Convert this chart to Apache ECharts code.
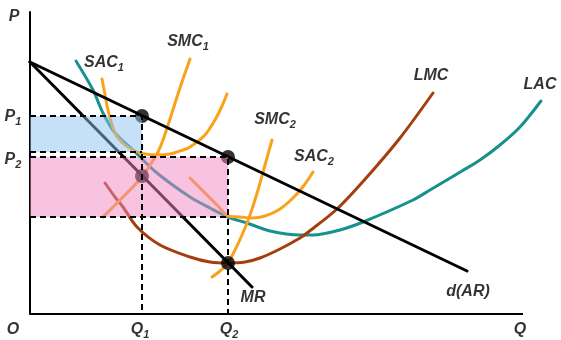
<!DOCTYPE html>
<html><head><meta charset="utf-8">
<script src="https://cdn.jsdelivr.net/npm/echarts@6/dist/echarts.min.js"></script>
<style>html,body{margin:0;padding:0;background:#fff}#c{width:561px;height:340px}</style>
</head><body><div id="c"></div>
<script>
// ---- data (quantity, price) in arbitrary units ----
const demandAR = [[0,252],[437,43]];
const marginalRevenue = [[0,252],[222,27]];
const lac = [[46,253],[63,224],[73,201],[85,181],[103,164],[127,141],[160,117],[180,106],[198,97],[217,91],[240,83],[270,79],[283,79],[310,84],[333,92],[383,114],[400,124],[432,143],[450,154],[470,169],[490,187],[511,213]];
const sac1 = [[72,235],[75,219],[78,204],[85,181],[95,169],[105,163],[115,160],[127,159],[140,160],[153,164],[160,167],[175,179],[185,194],[192,208],[197,220]];
const smc1 = [[73,97],[85,109],[98,122],[112,137],[122,152],[128,162],[133,174],[140,195],[147,217],[154,238],[160,255]];
const sac2 = [[160,136],[175,121],[188,108],[198,98],[210,97],[222,96],[235,98],[250,105],[265,118],[275,130],[283,142]];
const smc2 = [[182,37],[190,43],[198,51],[205,64],[212,79],[220,99],[228,124],[235,149],[242,174]];
const lmc = [[75,131],[85,117],[93,107],[107,87],[130,69],[160,57],[180,52],[198,51],[215,52],[230,56],[250,65],[270,76],[277,81],[307,105],[337,137],[370,176],[403,221]];
const qAxisEnd = 493;
const q1 = 112, q2 = 198;
const p1 = 198, p2 = 157;
const ac1 = 162, ac2 = 97;
const mrAtQ1 = 138, mrAtQ2 = 51;
const keyPoints = [[q1,p1],[q2,p2],[q2,mrAtQ2],[q1,mrAtQ1]];
const labelTexts = ['P','SAC|1','SMC|1','LMC','LAC','SMC|2','SAC|2','d(AR)','MR','O','Q|1','Q|2','Q','P|1','P|2'];

// ---- layout: label anchors (data coords) ----
const labelAnchors = [[-16,297],[74,251],[158,272],[401,238],[510,229],[245,194],[284,157],[438,22],[223,16],[-17,-16],[110,-16],[199,-16],[490,-16],[-17,197],[-17,154]];

const chart = echarts.init(document.getElementById('c'), null, {renderer:'canvas'});
const FONT = 'Liberation Sans, Arial, sans-serif';
function curve(name, data, color, z, extra) {
  return Object.assign({
    name, type:'line', data, showSymbol:false, smooth:0.3, clip:false, silent:true, z,
    lineStyle:{color, width:3, cap:'round'}
  }, extra || {});
}
function dashed(data) {
  return {type:'line', data, showSymbol:false, clip:false, silent:true, z:6,
    lineStyle:{color:'#000', width:2, type:[6,4]}};
}
function rect(top, bottom, right, color) {
  return {type:'line', data:[[0,top],[right,top]], showSymbol:false, silent:true, z:5,
    lineStyle:{width:0, opacity:0}, areaStyle:{color, opacity:0.5, origin:bottom}};
}
const labelData = labelTexts.map((t,i)=>({value:labelAnchors[i], txt:t}));
const option = {
  animation:false,
  grid:{left:30, right:15, top:12, bottom:26},
  xAxis:{type:'value', min:0, max:516, axisLine:{show:false},
    axisTick:{show:false}, axisLabel:{show:false}, splitLine:{show:false}},
  yAxis:{type:'value', min:0, max:302, axisLine:{show:true, onZero:false, lineStyle:{color:'#000', width:2}},
    axisTick:{show:false}, axisLabel:{show:false}, splitLine:{show:false}},
  series:[
    {type:'line', data:[[0,0],[qAxisEnd,0]], showSymbol:false, silent:true, z:7, clip:false,
      lineStyle:{color:'#000', width:2}},
    curve('LAC', lac, '#16918b', 2),
    curve('LMC', lmc, '#a53e0f', 2),
    curve('SAC1', sac1, '#f9a21c', 2),
    curve('SMC1', smc1, '#f9a21c', 2),
    curve('SAC2', sac2, '#f9a21c', 2),
    curve('SMC2', smc2, '#f9a21c', 2),
    curve('d(AR)', demandAR, '#000', 3, {smooth:false}),
    curve('MR', marginalRevenue, '#000', 3, {smooth:false}),
    {type:'scatter', data:keyPoints, symbolSize:14, itemStyle:{color:'#000'}, z:4, silent:true},
    rect(p1, ac1, q1, '#8dc1f1'),
    rect(p2, ac2, q2, '#ef87c1'),
    dashed([[0,p1],[q1,p1],[q1,0]]),
    dashed([[0,ac1],[q1,ac1]]),
    dashed([[0,p2],[q2,p2],[q2,0]]),
    dashed([[0,ac2],[q2,ac2]]),
    {type:'scatter', data:labelData, symbolSize:0, clip:false, silent:true, z:10,
      label:{show:true, position:'inside', color:'#000',
        formatter:(p)=>{const parts=p.data.txt.split('|'); return '{m|'+parts[0]+'}'+(parts[1]?'{s|'+parts[1]+'}':'');},
        rich:{
          m:{fontFamily:FONT, fontStyle:'italic', fontWeight:'bold', fontSize:16, color:'#000', lineHeight:20},
          s:{fontFamily:FONT, fontStyle:'italic', fontWeight:'bold', fontSize:11, color:'#000', lineHeight:11, verticalAlign:'bottom'}
        }}}
  ]
};
chart.setOption(option);
</script></body></html>
